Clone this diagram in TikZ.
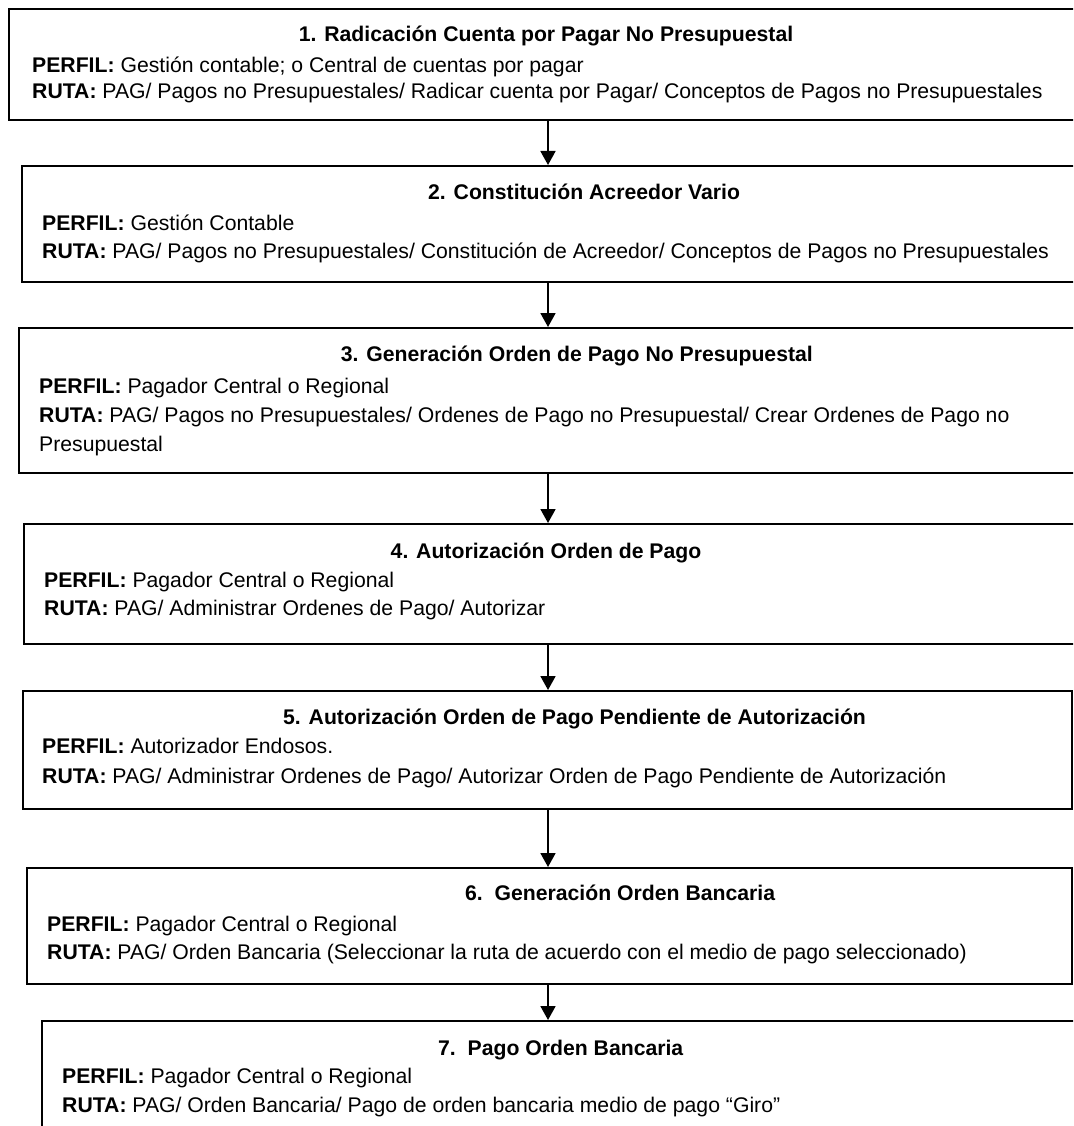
\documentclass[tikz,border=0pt]{standalone}
\usepackage{fontspec}
\setmainfont{Liberation Sans}
\usetikzlibrary{arrows.meta}
\begin{document}
\begin{tikzpicture}[x=1pt,y=-1pt,
  box/.style={draw=black, line width=2.2pt, inner sep=0pt, anchor=north west, fill=white},
  txt/.style={inner sep=0pt, anchor=base west, font=\fontsize{21.2}{25}\selectfont},
  ttl/.style={inner sep=0pt, anchor=base west, font=\fontsize{21.2}{25}\selectfont\bfseries},
  arr/.style={line width=1.8pt, -{Triangle[width=15pt,length=14pt]}}]
\useasboundingbox (0,0) rectangle (1073,1126);
\fill[white] (0,0) rectangle (1073,1126);
\clip (0,0) rectangle (1073,1126);
% boxes
\node[box, minimum width=1070pt, minimum height=111pt] (b1) at (8,8) {};
\node[box, minimum width=1057pt, minimum height=116pt] (b2) at (21,165) {};
\node[box, minimum width=1060pt, minimum height=145pt] (b3) at (18,327) {};
\node[box, minimum width=1055pt, minimum height=120pt] (b4) at (23,523) {};
\node[box, minimum width=1049pt, minimum height=118pt] (b5) at (22,690) {};
\node[box, minimum width=1045pt, minimum height=116pt] (b6) at (26,867) {};
\node[box, minimum width=1040pt, minimum height=118pt] (b7) at (41,1020) {};
% connectors
\coordinate (ax) at (548,0);
\draw[arr] (ax |- b1.south) -- (ax |- b2.north);
\draw[arr] (ax |- b2.south) -- (ax |- b3.north);
\draw[arr] (ax |- b3.south) -- (ax |- b4.north);
\draw[arr] (ax |- b4.south) -- (ax |- b5.north);
\draw[arr] (ax |- b5.south) -- (ax |- b6.north);
\draw[arr] (ax |- b6.south) -- (ax |- b7.north);
% box 1
\node[ttl, anchor=base] (t1) at (546,42) {1. Radicación Cuenta por Pagar No Presupuestal};
\node[txt] (p1) at (32,73) {\textbf{PERFIL:} Gestión contable; o Central de cuentas por pagar};
\node[txt] (r1) at (32,99) {\textbf{RUTA:} PAG/ Pagos no Presupuestales/ Radicar cuenta por Pagar/ Conceptos de Pagos no Presupuestales};
% box 2
\node[ttl] (t2) at (428,200) {2. Constitución Acreedor Vario};
\node[txt] (p2) at (42,230) {\textbf{PERFIL:} Gestión Contable};
\node[txt] (r2) at (42,258) {\textbf{RUTA:} PAG/ Pagos no Presupuestales/ Constitución de Acreedor/ Conceptos de Pagos no Presupuestales};
% box 3
\node[ttl, anchor=base east] (t3) at (813,361) {3. Generación Orden de Pago No Presupuestal};
\node[txt] (p3) at (39,393) {\textbf{PERFIL:} Pagador Central o Regional};
\node[txt] (r3) at (39,422) {\textbf{RUTA:} PAG/ Pagos no Presupuestales/ Ordenes de Pago no Presupuestal/ Crear Ordenes de Pago no};
\node[txt] (r3b) at (39,451) {Presupuestal};
% box 4
\node[ttl, anchor=base] (t4) at (546,558) {4. Autorización Orden de Pago};
\node[txt] (p4) at (44,587) {\textbf{PERFIL:} Pagador Central o Regional};
\node[txt] (r4) at (44,615) {\textbf{RUTA:} PAG/ Administrar Ordenes de Pago/ Autorizar};
% box 5
\node[ttl] (t5) at (283,724) {5. Autorización Orden de Pago Pendiente de Autorización};
\node[txt] (p5) at (42,753) {\textbf{PERFIL:} Autorizador Endosos.};
\node[txt] (r5) at (42,783) {\textbf{RUTA:} PAG/ Administrar Ordenes de Pago/ Autorizar Orden de Pago Pendiente de Autorización};
% box 6
\node[ttl] (t6) at (465,900) {6.\ \ Generación Orden Bancaria};
\node[txt] (p6) at (47,931) {\textbf{PERFIL:} Pagador Central o Regional};
\node[txt] (r6) at (47,959) {\textbf{RUTA:} PAG/ Orden Bancaria (Seleccionar la ruta de acuerdo con el medio de pago seleccionado)};
% box 7
\node[ttl] (t7) at (438,1055) {7.\ \ Pago Orden Bancaria};
\node[txt] (p7) at (62,1083) {\textbf{PERFIL:} Pagador Central o Regional};
\node[txt] (r7) at (62,1112) {\textbf{RUTA:} PAG/ Orden Bancaria/ Pago de orden bancaria medio de pago “Giro”};
\end{tikzpicture}
\end{document}
